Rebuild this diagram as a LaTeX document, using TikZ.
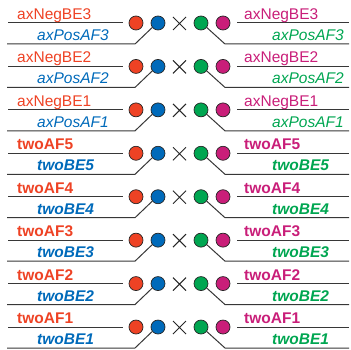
\documentclass[tikz,border=0pt]{standalone}
\usepackage{fontspec}
\setmainfont{Liberation Sans}
\usetikzlibrary{shapes.misc}
\definecolor{axred}{RGB}{238,66,36}
\definecolor{axblue}{RGB}{0,106,186}
\definecolor{axgreen}{RGB}{0,166,81}
\definecolor{axmagenta}{RGB}{201,30,121}
\definecolor{wirecolor}{RGB}{55,55,55}

\tikzset{
  dot/.style={circle, draw=black!85, line width=0.7pt, minimum size=14pt, inner sep=0pt},
  cross/.style={cross out, draw=black!85, line width=1pt, minimum size=12pt, inner sep=0pt},
  wire/.style={wirecolor, line width=1pt},
  lbl/.style={anchor=base west, inner sep=0pt, font=\fontsize{15.5}{18}\selectfont}
}

\begin{document}
\begin{tikzpicture}[x=1pt, y=-1pt]
  \useasboundingbox (0,0) rectangle (351,350);
  % one row per pairing, top to bottom
  \foreach \up/\lo/\wt [count=\i from 0] in {
      axNegBE3/axPosAF3/\mdseries, axNegBE2/axPosAF2/\mdseries, axNegBE1/axPosAF1/\mdseries,
      twoAF5/twoBE5/\bfseries, twoAF4/twoBE4/\bfseries, twoAF3/twoBE3/\bfseries,
      twoAF2/twoBE2/\bfseries, twoAF1/twoBE1/\bfseries}{
    \begin{scope}[shift={(0,43.43*\i)}]
      \node[dot, fill=axred] (lr\i) at (136,23) {};
      \node[dot, fill=axblue] (lb\i) at (158,23) {};
      \node[cross] (x\i) at (179.5,23.5) {};
      \node[dot, fill=axgreen] (rg\i) at (201,23) {};
      \node[dot, fill=axmagenta] (rm\i) at (223,23) {};
      % left side wires
      \coordinate (lua\i) at (8,23);   \coordinate (lub\i) at (123,23);
      \coordinate (lla\i) at (7,44);   \coordinate (llb\i) at (135,44);
      \draw[wire] (lua\i) -- (lub\i);
      \draw[wire] (lla\i) -- (llb\i) -- (lb\i.218);
      % right side wires
      \coordinate (rua\i) at (237,23); \coordinate (rub\i) at (349,23);
      \coordinate (rla\i) at (225,44); \coordinate (rlb\i) at (349,44);
      \draw[wire] (rua\i) -- (rub\i);
      \draw[wire] (rg\i.-38) -- (rla\i) -- (rlb\i);
      % labels
      \node[lbl, text=axred] (lu\i) at (17,19.5) {\wt\up};
      \node[lbl, text=axblue] (ll\i) at (37,40.5) {\wt\itshape\lo};
      \node[lbl, text=axmagenta] (ru\i) at (244,19.5) {\wt\up};
      \node[lbl, text=axgreen] (rl\i) at (272,40.5) {\wt\itshape\lo};
    \end{scope}
  }
\end{tikzpicture}
\end{document}
